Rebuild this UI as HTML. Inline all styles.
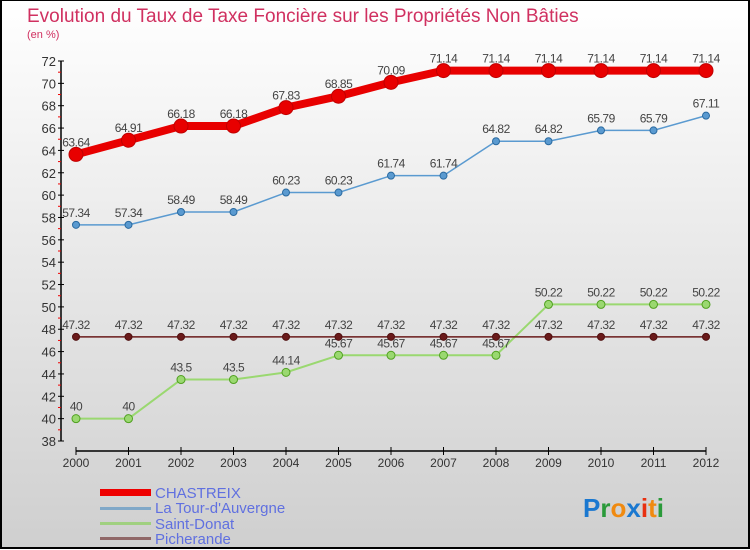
<!DOCTYPE html>
<html><head><meta charset="utf-8"><style>
html,body{margin:0;padding:0}
body{width:750px;height:550px;overflow:hidden;font-family:"Liberation Sans",sans-serif}
#wrap{position:absolute;left:0;top:0;width:746px;height:546px;border:2px solid #000;border-top:1px solid #000;background:linear-gradient(#ffffff,#cfcfcf)}
</style></head><body>
<div id="wrap">
<svg id="chart" width="750" height="550" style="position:absolute;left:-2px;top:-1px">
<text x="27" y="22" font-size="19" fill="#d03060">Evolution du Taux de Taxe Foncière sur les Propriétés Non Bâties</text>
<text x="27" y="38" font-size="11" fill="#d03060">(en %)</text>
<g id="axes"></g><g id="series"></g>
<g>
<rect x="100" y="489" width="51" height="7" fill="#e00"/>
<text x="155" y="498" font-size="15" fill="#6070e0">CHASTREIX</text>
<rect x="100" y="507" width="51" height="3" fill="#80a8c8"/>
<text x="155" y="513" font-size="15" fill="#6070e0">La Tour-d'Auvergne</text>
<rect x="100" y="522" width="51" height="3" fill="#a0d080"/>
<text x="155" y="529" font-size="15" fill="#6070e0">Saint-Donat</text>
<rect x="100" y="537" width="51" height="3" fill="#906868"/>
<text x="155" y="544" font-size="15" fill="#6070e0">Picherande</text>
</g>
<g font-size="26" font-weight="bold">
<text x="583" y="517"><tspan fill="#1a78d0">P</tspan><tspan fill="#2a9a3a">r</tspan><tspan fill="#f08a10">o</tspan><tspan fill="#1a78d0">x</tspan><tspan fill="#e83010">i</tspan><tspan fill="#f08a10">t</tspan><tspan fill="#2a9a3a">i</tspan></text>
</g>
</svg>
</div>
<script>
const years=["2000","2001","2002","2003","2004","2005","2006","2007","2008","2009","2010","2011","2012"];
const chastreix=[63.64,64.91,66.18,66.18,67.83,68.85,70.09,71.14,71.14,71.14,71.14,71.14,71.14];
const tour=[57.34,57.34,58.49,58.49,60.23,60.23,61.74,61.74,64.82,64.82,65.79,65.79,67.11];
const saintDonat=[40,40,43.5,43.5,44.14,45.67,45.67,45.67,45.67,50.22,50.22,50.22,50.22];
const picherande=[47.32,47.32,47.32,47.32,47.32,47.32,47.32,47.32,47.32,47.32,47.32,47.32,47.32];
const yTicks=[38,40,42,44,46,48,50,52,54,56,58,60,62,64,66,68,70,72];
const NS="http://www.w3.org/2000/svg";
const yMin=38,yMax=72,yTop=61,yBot=441,xL=76,xStep=52.5;
const X=i=>xL+i*xStep;
const Y=v=>yBot-(v-yMin)/(yMax-yMin)*(yBot-yTop);
function mk(tag,at,parent){const e=document.createElementNS(NS,tag);for(const k in at)e.setAttribute(k,at[k]);parent.appendChild(e);return e;}
const axes=document.getElementById('axes'),ser=document.getElementById('series');
let a=mk('line',{x1:61,y1:Y(72),x2:61,y2:Y(38),stroke:'#000','stroke-width':1.5},axes);


let b=mk('line',{x1:X(0),y1:451,x2:X(12),y2:451,stroke:'#000','stroke-width':1.5},axes);


yTicks.forEach(v=>{
 mk('line',{x1:58,y1:Y(v),x2:64,y2:Y(v),stroke:'#000'},axes);
 if(v<72) mk('line',{x1:58,y1:Y(v+1),x2:61,y2:Y(v+1),stroke:'#e00'},axes);
 const t=mk('text',{x:56,y:Y(v)+5,'font-size':13,'text-anchor':'end',fill:'#333'},axes);t.textContent=v;
 
 
});
years.forEach((y,i)=>{
 mk('line',{x1:X(i),y1:447,x2:X(i),y2:455,stroke:'#000'},axes);
 const t=mk('text',{x:X(i),y:467,'font-size':12,'text-anchor':'middle',fill:'#333'},axes);t.textContent=y;
 
 
});
function series(vals,color,w,r,name,dotStroke){
 const g=mk('g',{},ser);
 
 
 mk('polyline',{points:vals.map((v,i)=>X(i)+','+Y(v)).join(' '),fill:'none',stroke:color,'stroke-width':w,'stroke-linejoin':'round'},g);
 vals.forEach((v,i)=>{
  const c=mk('circle',{cx:X(i),cy:Y(v),r:r,fill:color,stroke:dotStroke,'stroke-width':1},g);
  
  
  const t=mk('text',{x:X(i),y:Y(v)-8,'font-size':12,'text-anchor':'middle',fill:'#444','letter-spacing':'-0.5'},g);
  t.textContent=String(v);
  
  
 });
}
series(saintDonat,'#9ad870',2,4,'saint-donat','#50a020');
series(picherande,'#6a1a1a',1.5,3.5,'picherande','#501010');
series(tour,'#5a9ad0',1.5,3.5,'tour-d-auvergne','#2a6aa0');
series(chastreix,'#e80000',8,7,'chastreix','#c00000');
</script>
</body></html>
